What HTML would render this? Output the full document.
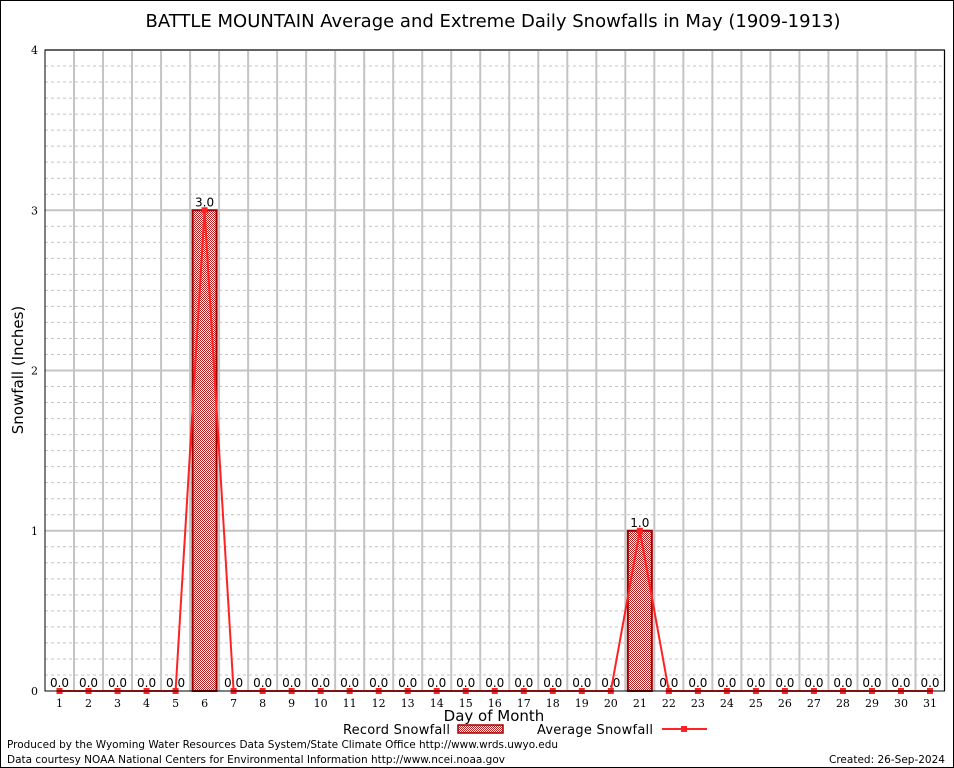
<!DOCTYPE html>
<html><head><meta charset="utf-8"><style>
body{margin:0;background:#fff}
svg{display:block}
text{font-family:"DejaVu Sans","Liberation Sans",sans-serif}
.tick{font-family:"DejaVu Serif","Liberation Serif",serif;font-size:11px}
</style></head><body>
<svg id="c" width="954" height="768" xmlns="http://www.w3.org/2000/svg">
<defs><pattern id="chk" width="2" height="2" patternUnits="userSpaceOnUse"><rect width="2" height="2" fill="#fff"/><rect width="1" height="1" fill="#b02020"/><rect x="1" y="1" width="1" height="1" fill="#b02020"/></pattern></defs>
<rect x="0.5" y="0.5" width="953" height="767" fill="#fff" stroke="#000"/>
<text x="493" y="27" font-size="18" text-anchor="middle">BATTLE MOUNTAIN Average and Extreme Daily Snowfalls in May (1909-1913)</text>
<g id="grid"></g><g id="marks"></g><g id="axes"></g>
<text transform="translate(23,370) rotate(-90)" font-size="15" text-anchor="middle">Snowfall (Inches)</text>
<text x="494" y="721" font-size="15" text-anchor="middle">Day of Month</text>
<g>
<text x="343" y="734" font-size="13" textLength="107">Record Snowfall</text>
<rect x="458" y="725" width="45" height="8" fill="url(#chk)" stroke="#a00000" stroke-width="1.5"/>
<text x="537" y="734" font-size="13" textLength="116">Average Snowfall</text>
<line x1="662" y1="729" x2="707" y2="729" stroke="#f22" stroke-width="2"/>
<rect x="681" y="726" width="6" height="6" fill="#f22"/>
</g>
<text x="7" y="748" font-size="11" textLength="551" lengthAdjust="spacingAndGlyphs">Produced by the Wyoming Water Resources Data System/State Climate Office http://www.wrds.uwyo.edu</text>
<text x="7" y="763" font-size="11" textLength="498" lengthAdjust="spacingAndGlyphs">Data courtesy NOAA National Centers for Environmental Information http://www.ncei.noaa.gov</text>
<text x="945" y="763" font-size="11" text-anchor="end" textLength="116" lengthAdjust="spacingAndGlyphs">Created: 26-Sep-2024</text>
</svg>
<script>
const days=[1,2,3,4,5,6,7,8,9,10,11,12,13,14,15,16,17,18,19,20,21,22,23,24,25,26,27,28,29,30,31];
const recordVals=[0,0,0,0,0,3.0,0,0,0,0,0,0,0,0,0,0,0,0,0,0,1.0,0,0,0,0,0,0,0,0,0,0];
const avgVals=[0,0,0,0,0,3.0,0,0,0,0,0,0,0,0,0,0,0,0,0,0,1.0,0,0,0,0,0,0,0,0,0,0];
const yTicks=[0,1,2,3,4];
const NS="http://www.w3.org/2000/svg";
const L=45,R=944.5,T=50,B=691;
function xs(d){return L+(d-0.5)*(R-L)/31;}
function ys(v){return B-v*(B-T)/4;}
function mk(p,tag,a){const e=document.createElementNS(NS,tag);for(const k in a)e.setAttribute(k,a[k]);p.appendChild(e);return e;}
const grid=document.getElementById('grid'),marks=document.getElementById('marks'),axes=document.getElementById('axes');
for(let i=1;i<40;i++){if(i%10===0)continue;const y=ys(i/10);
const g=mk(grid,'line',{x1:L,x2:R,y1:y,y2:y,stroke:'#c4c4c4','stroke-dasharray':'3,3'});

}
for(let d=1;d<=31;d++){const x=xs(d+0.5);
const g=mk(grid,'line',{x1:x,x2:x,y1:T,y2:B,stroke:'#c4c4c4','stroke-width':2});

}
yTicks.forEach(v=>{const y=ys(v);
if(v>0){const g=mk(grid,'line',{x1:L,x2:R,y1:y,y2:y,stroke:'#c4c4c4','stroke-width':2});

}
const t=mk(axes,'text',{x:38,y:y+4,'text-anchor':'end',class:'tick'});t.textContent=v;

});
days.forEach((d,i)=>{const x=xs(d),v=recordVals[i];
if(v>0){const b=mk(marks,'rect',{x:x-12,y:ys(v),width:24,height:B-ys(v),fill:'url(#chk)',stroke:'#a00000','stroke-width':2});

}
const t=mk(marks,'text',{x:x,y:ys(v)-4,'text-anchor':'middle','font-size':12});t.textContent=v.toFixed(1);


const tl=mk(axes,'text',{x:x,y:707,'text-anchor':'middle',class:'tick'});tl.textContent=d;

});
const pl=mk(marks,'polyline',{points:days.map((d,i)=>xs(d)+','+ys(avgVals[i])).join(' '),fill:'none',stroke:'#f22','stroke-width':2});


days.forEach((d,i)=>{const p=mk(marks,'rect',{x:xs(d)-3,y:ys(avgVals[i])-3,width:6,height:6,fill:'#f22'});

});
const fr=mk(axes,'rect',{x:L,y:T,width:R-L,height:B-T,fill:'none',stroke:'#000','stroke-width':1});


</script>
</body></html>
